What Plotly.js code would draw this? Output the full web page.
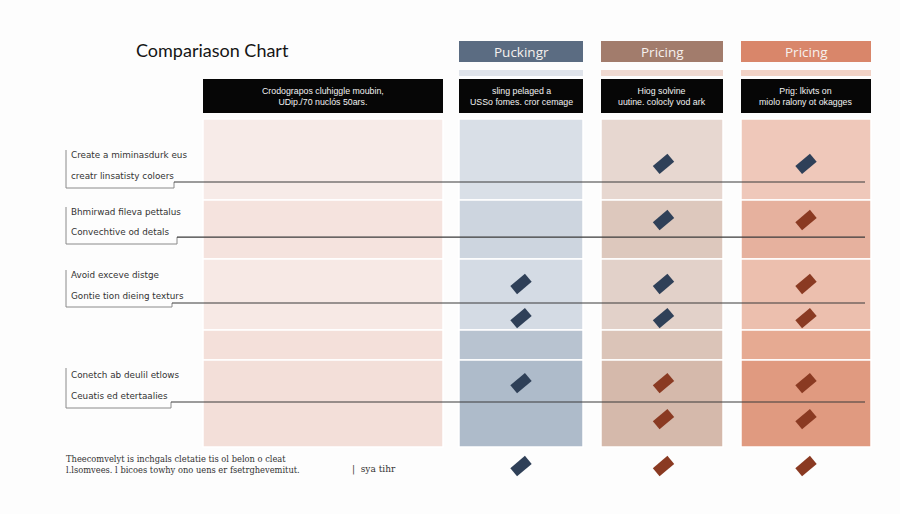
<!DOCTYPE html>
<html>
<head>
<meta charset="utf-8">
<script src="https://cdn.plot.ly/plotly-3.0.1.min.js"></script>
<style>html,body{margin:0;padding:0;background:#fdfdfd;}#chart{width:900px;height:514px;}</style>
</head>
<body>
<div id="chart"></div>
<script>
// ---------- data ----------
const chartTitle = "Compariason Chart";
const columnHeaders = ["Puckingr", "Pricing", "Pricing"];
const boxTexts = [
  ["Crodograpos cluhiggle moubin,", "UDip./70 nuclós 50ars."],
  ["sling pelaged a", "USSo fomes. cror cemage"],
  ["Hiog solvine", "uutine. colocly vod ark"],
  ["Prig: lkivts on", "miolo ralony ot okagges"]
];
const rowLabels = [
  ["Create a miminasdurk eus", "creatr linsatisty coloers"],
  ["Bhmirwad fileva pettalus", "Convechtive od detals"],
  ["Avoid exceve distge", "Gontie tion dieing texturs"],
  ["Conetch ab deulil etlows", "Ceuatis ed etertaalies"]
];
const footerLines = [
  "Theecomvelyt is inchgals cletatie tis ol belon o cleat",
  "l.lsomvees. l bicoes towhy ono uens er fsetrghevemitut."
];
const footerNote = "|  sya tihr";
// band edges of the table body (row units, 0 = top, 10 = bottom)
const bandEdges = [0, 2.47, 4.27, 6.43, 7.35, 10];
// marker rows (row units) and marker kind per column (0 none, 1 navy, 2 rust)
const markerRows = [1.37, 3.08, 5.03, 6.07, 8.05, 9.15, 10.58];
const markerKinds = [
  [0, 1, 1],
  [0, 1, 2],
  [1, 1, 2],
  [1, 1, 2],
  [1, 2, 2],
  [0, 2, 2],
  [1, 2, 2]
];
// connector line rows (row units)
const connectorRows = [1.92, 3.60, 5.61, 8.63];

// ---------- layout helpers ----------
const X = px => 1 + (px - 521) / 142.5;
const Y = px => (px - 119) / 32.8;
const colCentersPx = [323, 521, 662, 806];
const colWidthsPx = [240, 124, 122, 130];
const bandColors = [
  ["#f7ebe8", "#f5e3de", "#f7e9e5", "#f4e0da", "#f3dfd9"],
  ["#d9dfe7", "#cdd5df", "#d4dbe4", "#b8c3d0", "#aebbca"],
  ["#e7d7d0", "#ddc8bd", "#e2d1c9", "#dbc4b8", "#d5b9ab"],
  ["#efc8ba", "#e6b19e", "#ecbfae", "#e6aa92", "#e09a80"]
];
const headerColors = ["#5b6c82", "#a27c6c", "#d9866a"];
const stripColors = ["#dfe3ea", "#efd9d1", "#f1d2c6"];
const markerColors = {1: "#2f4058", 2: "#8a3a22"};

const traces = [];
// column backgrounds as stacked bands
for (let c = 0; c < 4; c++) {
  const n = bandEdges.length - 1;
  traces.push({
    type: "bar",
    x: Array(n).fill(X(colCentersPx[c])),
    base: bandEdges.slice(0, n),
    y: bandEdges.slice(1).map((e, i) => e - bandEdges[i]),
    width: colWidthsPx[c] / 142.5,
    marker: {color: bandColors[c], line: {color: "#ffffff", width: 1.5}},
    hoverinfo: "skip"
  });
}
// connectors with left brackets
const bracketTop = [150, 207, 270, 368];
const bracketBottom = [188, 244, 307, 408];
const elbowX = [174, 177, 172, 171];
connectorRows.forEach((r, i) => {
  traces.push({
    type: "scatter", mode: "lines",
    x: [X(66), X(66), X(elbowX[i]), X(elbowX[i])],
    y: [Y(bracketTop[i]), Y(bracketBottom[i]), Y(bracketBottom[i]), r],
    line: {color: "#8a8a8a", width: 1}, hoverinfo: "skip"
  });
  traces.push({
    type: "scatter", mode: "lines",
    x: [X(elbowX[i]), X(865)],
    y: [r, r],
    line: {color: "#3a3a3a", width: 1.1}, hoverinfo: "skip"
  });
});
// markers
const mx = [], my = [], mc = [];
markerKinds.forEach((row, ri) => row.forEach((k, ci) => {
  if (k) { mx.push(ci + 1); my.push(markerRows[ri]); mc.push(markerColors[k]); }
}));
traces.push({
  type: "scatter", mode: "markers", x: mx, y: my,
  marker: {symbol: "line-ne", size: 13.5, angle: 5, color: mc, line: {color: mc, width: 10.5}},
  hoverinfo: "skip"
});

// ---------- shapes & annotations ----------
const shapes = [];
const annotations = [];
for (let c = 1; c < 4; c++) {
  const x0 = X(colCentersPx[c] - colWidthsPx[c] / 2), x1 = X(colCentersPx[c] + colWidthsPx[c] / 2);
  shapes.push({type: "rect", xref: "x", yref: "y", x0, x1, y0: Y(41), y1: Y(62), fillcolor: headerColors[c - 1], line: {width: 0}, layer: "below"});
  shapes.push({type: "rect", xref: "x", yref: "y", x0, x1, y0: Y(70), y1: Y(76), fillcolor: stripColors[c - 1], line: {width: 0}, layer: "below"});
  annotations.push({x: X(colCentersPx[c]), y: Y(51.5), xref: "x", yref: "y", text: columnHeaders[c - 1], showarrow: false,
    font: {family: "Open Sans, sans-serif", size: 13.5, color: "#f6f1ee"}});
}
for (let c = 0; c < 4; c++) {
  const x0 = X(colCentersPx[c] - colWidthsPx[c] / 2), x1 = X(colCentersPx[c] + colWidthsPx[c] / 2);
  shapes.push({type: "rect", xref: "x", yref: "y", x0, x1, y0: Y(79), y1: Y(113), fillcolor: "#060606", line: {width: 0}, layer: "below"});
  annotations.push({x: X(colCentersPx[c]), y: Y(96), xref: "x", yref: "y", text: boxTexts[c].join("<br>"), showarrow: false,
    font: {family: "Liberation Sans, Arial, sans-serif", size: 8.8, color: "#f2f2f2"}});
}
annotations.push({x: X(134), y: Y(50), xref: "x", yref: "y", xanchor: "left", text: chartTitle, showarrow: false,
  font: {family: "Lato, sans-serif", size: 18, color: "#151515"}});
const labelY = [[155, 176], [212, 232], [275, 296], [375, 396]];
rowLabels.forEach((pair, i) => pair.forEach((t, j) => {
  annotations.push({x: X(69), y: Y(labelY[i][j]), xref: "x", yref: "y", xanchor: "left", text: t, showarrow: false,
    font: {family: "DejaVu Sans, sans-serif", size: 8.8, color: "#333333"}});
}));
footerLines.forEach((t, j) => {
  annotations.push({x: X(64), y: Y(459 + j * 11), xref: "x", yref: "y", xanchor: "left", text: t, showarrow: false,
    font: {family: "DejaVu Serif, serif", size: 8.3, color: "#333333"}});
});
annotations.push({x: X(350), y: Y(469), xref: "x", yref: "y", xanchor: "left", text: footerNote, showarrow: false,
  font: {family: "DejaVu Serif, serif", size: 9, color: "#333333"}});

Plotly.newPlot("chart", traces, {
  width: 900, height: 514,
  margin: {l: 0, r: 0, t: 0, b: 0},
  paper_bgcolor: "#fdfdfd", plot_bgcolor: "#fdfdfd",
  showlegend: false,
  barmode: "overlay",
  xaxis: {range: [X(0), X(900)], visible: false, fixedrange: true},
  yaxis: {range: [Y(514), Y(0)], visible: false, fixedrange: true},
  shapes, annotations
}, {staticPlot: true});
</script>
</body>
</html>
